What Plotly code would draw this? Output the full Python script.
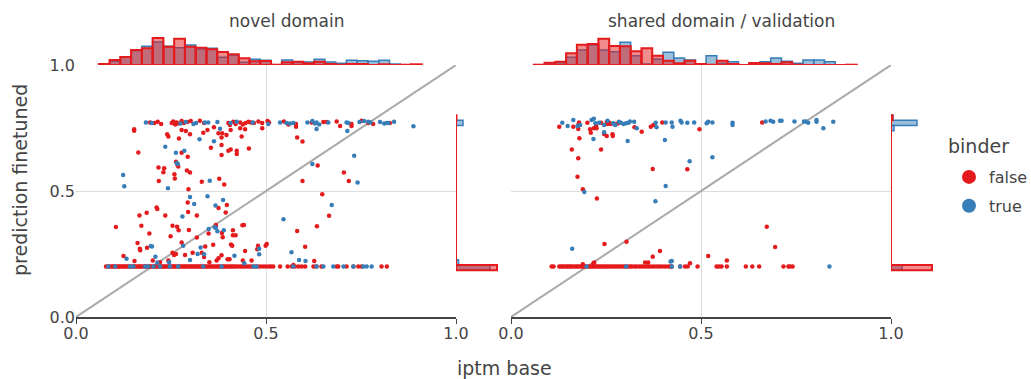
import numpy as np
import plotly.graph_objects as go

RED = "#e41a1c"
BLUE = "#377eb8"
RED_FILL = "rgba(228,26,28,0.5)"
BLUE_FILL = "rgba(55,126,184,0.5)"

panel_titles = ["novel domain", "shared domain / validation"]
legend_title = "binder"
class_names = ["false", "true"]
x_title = "iptm base"
y_title = "prediction finetuned"
tick_vals = [0.0, 0.5, 1.0]
tick_text = ["0.0", "0.5", "1.0"]
diag = [0.0, 1.0]

# ---------------- scatter data (iptm base, prediction finetuned) ----------------
floor_value = 0.2

novel_false_pts = [
    (0.195, 0.772), (0.206, 0.770), (0.215, 0.775), (0.224, 0.766), (0.252, 0.770), (0.256, 0.776),
    (0.261, 0.764), (0.265, 0.772), (0.269, 0.768), (0.278, 0.778), (0.284, 0.770), (0.293, 0.774),
    (0.302, 0.778), (0.326, 0.779), (0.337, 0.770), (0.401, 0.770), (0.405, 0.762), (0.414, 0.775),
    (0.420, 0.766), (0.432, 0.772), (0.439, 0.764), (0.446, 0.770), (0.454, 0.775), (0.460, 0.772),
    (0.468, 0.770), (0.480, 0.776), (0.490, 0.770), (0.504, 0.778), (0.508, 0.772), (0.547, 0.776),
    (0.559, 0.764), (0.579, 0.766), (0.620, 0.772), (0.651, 0.774), (0.660, 0.774), (0.686, 0.776),
    (0.725, 0.766), (0.752, 0.779), (0.769, 0.770), (0.782, 0.766), (0.826, 0.770),
    (0.153, 0.745), (0.153, 0.739), (0.240, 0.725), (0.243, 0.716), (0.271, 0.708), (0.278, 0.742),
    (0.289, 0.738), (0.300, 0.725), (0.335, 0.731), (0.346, 0.742), (0.363, 0.753), (0.375, 0.729),
    (0.385, 0.729), (0.383, 0.712), (0.396, 0.722), (0.407, 0.742), (0.432, 0.749), (0.436, 0.716),
    (0.445, 0.745), (0.490, 0.749), (0.579, 0.755), (0.582, 0.712), (0.596, 0.696), (0.164, 0.653),
    (0.278, 0.652), (0.294, 0.636), (0.355, 0.672), (0.383, 0.683), (0.383, 0.643), (0.401, 0.660),
    (0.407, 0.665), (0.423, 0.660), (0.423, 0.647), (0.455, 0.669), (0.695, 0.758), (0.725, 0.758),
    (0.217, 0.593), (0.232, 0.590), (0.230, 0.574), (0.259, 0.566), (0.260, 0.550), (0.263, 0.616),
    (0.267, 0.603), (0.269, 0.597), (0.292, 0.581), (0.300, 0.573), (0.218, 0.540), (0.296, 0.507),
    (0.331, 0.537), (0.377, 0.549), (0.390, 0.526), (0.212, 0.435), (0.214, 0.429), (0.186, 0.414),
    (0.167, 0.403), (0.235, 0.403), (0.294, 0.454), (0.295, 0.417), (0.318, 0.403), (0.397, 0.444),
    (0.375, 0.433), (0.394, 0.415), (0.105, 0.357), (0.172, 0.362), (0.193, 0.331), (0.162, 0.294),
    (0.168, 0.271), (0.187, 0.275), (0.254, 0.362), (0.266, 0.358), (0.270, 0.344), (0.297, 0.345),
    (0.249, 0.320), (0.318, 0.315), (0.278, 0.296), (0.368, 0.365), (0.368, 0.360), (0.349, 0.331),
    (0.384, 0.333), (0.386, 0.316), (0.413, 0.344), (0.413, 0.324), (0.420, 0.324), (0.438, 0.364),
    (0.442, 0.365), (0.361, 0.287), (0.340, 0.280), (0.408, 0.288), (0.411, 0.283), (0.479, 0.283),
    (0.502, 0.290), (0.499, 0.283), (0.582, 0.341), (0.596, 0.540), (0.603, 0.279), (0.636, 0.601),
    (0.648, 0.487), (0.634, 0.360), (0.666, 0.402), (0.705, 0.573), (0.718, 0.540),
    (0.169, 0.265), (0.125, 0.242), (0.154, 0.222), (0.202, 0.224), (0.221, 0.217), (0.243, 0.224),
    (0.254, 0.255), (0.258, 0.246), (0.263, 0.250), (0.287, 0.246), (0.307, 0.255), (0.337, 0.238),
    (0.331, 0.255), (0.351, 0.217), (0.370, 0.224), (0.375, 0.233), (0.383, 0.245), (0.399, 0.229),
    (0.404, 0.229), (0.445, 0.262), (0.439, 0.224), (0.477, 0.269), (0.462, 0.224), (0.627, 0.222),
    (0.572, 0.206),
]
novel_false_floor_x = [
    0.079, 0.084, 0.088, 0.093, 0.097, 0.100, 0.104, 0.109, 0.113, 0.116, 0.121, 0.125, 0.128, 0.133,
    0.137, 0.141, 0.144, 0.149, 0.153, 0.156, 0.160, 0.165, 0.168, 0.172, 0.177, 0.181, 0.184, 0.188,
    0.193, 0.196, 0.200, 0.205, 0.208, 0.212, 0.217, 0.221, 0.224, 0.229, 0.232, 0.236, 0.241, 0.244,
    0.248, 0.253, 0.257, 0.260, 0.264, 0.269, 0.273, 0.276, 0.281, 0.285, 0.288, 0.293, 0.297, 0.301,
    0.305, 0.309, 0.313, 0.317, 0.321, 0.326, 0.329, 0.334, 0.338, 0.342, 0.347, 0.351, 0.356, 0.360,
    0.365, 0.369, 0.374, 0.378, 0.383, 0.388, 0.392, 0.397, 0.402, 0.407, 0.411, 0.416, 0.421, 0.427,
    0.433, 0.438, 0.444, 0.451, 0.457, 0.463, 0.470, 0.477, 0.484, 0.492, 0.499, 0.507, 0.513, 0.519,
    0.537, 0.557, 0.568, 0.576, 0.585, 0.594, 0.603, 0.625, 0.633, 0.646, 0.686, 0.690, 0.712, 0.730,
    0.743, 0.752, 0.804, 0.818,
]
novel_true_pts = [
    (0.184, 0.772), (0.199, 0.770), (0.275, 0.768), (0.289, 0.774), (0.309, 0.766), (0.316, 0.770),
    (0.339, 0.772), (0.348, 0.772), (0.372, 0.774), (0.407, 0.770), (0.423, 0.775), (0.465, 0.772),
    (0.506, 0.766), (0.537, 0.772), (0.554, 0.770), (0.563, 0.768), (0.572, 0.770), (0.609, 0.772),
    (0.622, 0.778), (0.629, 0.768), (0.633, 0.772), (0.640, 0.764), (0.664, 0.772), (0.712, 0.772),
    (0.717, 0.770), (0.746, 0.774), (0.758, 0.778), (0.769, 0.775), (0.775, 0.772), (0.800, 0.774),
    (0.811, 0.768), (0.818, 0.770), (0.822, 0.770), (0.837, 0.775), (0.888, 0.757),
    (0.714, 0.738), (0.633, 0.746), (0.732, 0.640), (0.235, 0.676), (0.263, 0.652), (0.285, 0.660),
    (0.325, 0.705), (0.363, 0.697), (0.379, 0.747), (0.124, 0.563), (0.127, 0.519), (0.242, 0.511),
    (0.265, 0.611), (0.268, 0.607), (0.300, 0.476), (0.311, 0.448), (0.346, 0.479), (0.352, 0.541),
    (0.387, 0.464), (0.367, 0.442), (0.280, 0.399), (0.349, 0.349), (0.365, 0.356), (0.372, 0.340),
    (0.389, 0.344), (0.368, 0.354), (0.546, 0.388), (0.622, 0.607), (0.673, 0.444), (0.741, 0.534),
    (0.200, 0.280), (0.282, 0.283), (0.328, 0.276), (0.482, 0.271), (0.197, 0.282), (0.133, 0.231),
    (0.209, 0.239), (0.214, 0.216), (0.245, 0.217), (0.300, 0.226), (0.320, 0.250), (0.337, 0.249),
    (0.417, 0.243), (0.443, 0.213), (0.482, 0.249), (0.567, 0.257), (0.587, 0.226), (0.604, 0.222),
]
novel_true_floor_x = [
    0.085, 0.103, 0.142, 0.151, 0.182, 0.190, 0.204, 0.221, 0.247, 0.269, 0.335, 0.383, 0.467, 0.475,
    0.572, 0.633, 0.651, 0.677, 0.704, 0.730, 0.756, 0.765, 0.778,
]

shared_false_pts = [
    (0.127, 0.755), (0.164, 0.755), (0.179, 0.772), (0.177, 0.762), (0.177, 0.746), (0.201, 0.771),
    (0.208, 0.745), (0.210, 0.731), (0.218, 0.749), (0.225, 0.749), (0.224, 0.758), (0.237, 0.771),
    (0.252, 0.775), (0.254, 0.766), (0.259, 0.771), (0.263, 0.766), (0.276, 0.766), (0.282, 0.769),
    (0.245, 0.726), (0.252, 0.718), (0.267, 0.725), (0.268, 0.718), (0.325, 0.753), (0.344, 0.735),
    (0.368, 0.755), (0.375, 0.762), (0.398, 0.772), (0.496, 0.745), (0.661, 0.772), (0.180, 0.709),
    (0.160, 0.665), (0.237, 0.665), (0.177, 0.630), (0.175, 0.557), (0.189, 0.507), (0.226, 0.470),
    (0.373, 0.587), (0.464, 0.586), (0.673, 0.358), (0.695, 0.278), (0.246, 0.290), (0.304, 0.299),
    (0.392, 0.262), (0.373, 0.239), (0.519, 0.242), (0.568, 0.224), (0.471, 0.213), (0.361, 0.216),
    (0.353, 0.216), (0.189, 0.209), (0.219, 0.216), (0.217, 0.213),
]
shared_false_floor_x = [
    0.107, 0.112, 0.127, 0.131, 0.136, 0.140, 0.146, 0.150, 0.155, 0.159, 0.164, 0.170, 0.174, 0.179,
    0.185, 0.189, 0.194, 0.199, 0.204, 0.209, 0.213, 0.218, 0.223, 0.228, 0.232, 0.237, 0.242, 0.247,
    0.252, 0.257, 0.262, 0.268, 0.273, 0.279, 0.284, 0.290, 0.296, 0.301, 0.307, 0.313, 0.318, 0.325,
    0.331, 0.338, 0.344, 0.350, 0.357, 0.363, 0.370, 0.377, 0.384, 0.391, 0.398, 0.406, 0.414, 0.420,
    0.423, 0.445, 0.458, 0.465, 0.491, 0.541, 0.547, 0.554, 0.568, 0.618, 0.635, 0.653, 0.717, 0.730,
    0.734, 0.741,
]
shared_true_pts = [
    (0.135, 0.771), (0.149, 0.758), (0.164, 0.782), (0.175, 0.758), (0.182, 0.762), (0.212, 0.782),
    (0.218, 0.787), (0.217, 0.706), (0.222, 0.769), (0.232, 0.771), (0.245, 0.762), (0.254, 0.779),
    (0.269, 0.769), (0.274, 0.762), (0.284, 0.775), (0.289, 0.771), (0.296, 0.766), (0.303, 0.769),
    (0.309, 0.771), (0.313, 0.776), (0.324, 0.775), (0.331, 0.749), (0.381, 0.771), (0.383, 0.753),
    (0.407, 0.772), (0.423, 0.772), (0.425, 0.755), (0.446, 0.779), (0.449, 0.772), (0.464, 0.771),
    (0.482, 0.772), (0.515, 0.769), (0.519, 0.775), (0.530, 0.772), (0.583, 0.771), (0.583, 0.762),
    (0.670, 0.776), (0.683, 0.779), (0.690, 0.775), (0.708, 0.779), (0.712, 0.779), (0.746, 0.776),
    (0.771, 0.776), (0.776, 0.776), (0.782, 0.771), (0.804, 0.782), (0.804, 0.775), (0.822, 0.749),
    (0.848, 0.775), (0.307, 0.698), (0.405, 0.702), (0.245, 0.733), (0.530, 0.634), (0.470, 0.618),
    (0.407, 0.520), (0.193, 0.496), (0.380, 0.459), (0.161, 0.271), (0.420, 0.220), (0.423, 0.222),
]
shared_true_floor_x = [0.199, 0.303, 0.423, 0.445, 0.838]

# ---------------- marginal histograms (bar heights, 30 bins) ----------------
top_bin_range = (0.06, 0.91)
right_bin_range = (0.186, 0.801)
n_bins = 30

novel_top_false = [1, 5, 8, 15, 16.7, 27, 18.3, 26.3, 18.3, 17.3, 15.7, 13, 10.7, 6.7, 3.7,
                   4, 0.3, 2.7, 3.3, 1.7, 3.3, 1, 0.3, 1, 1, 0, 0.7, 0, 0.3, 0.7]
novel_top_true = [0, 3.7, 7.7, 14.3, 18.7, 23, 18.7, 17.3, 20, 16, 16.7, 7.7, 9.7, 2.7, 5.7,
                  4.7, 0, 5, 3, 3, 5.7, 3, 1.7, 4.7, 4.3, 3.7, 4.7, 1, 0, 0]
shared_top_false = [0.3, 2.3, 3.3, 11.7, 20.3, 21, 26.3, 19, 18.7, 13.7, 16.7, 9.3, 4.3, 1.7, 4.3,
                    1, 0.3, 4.3, 1, 0, 2, 1.7, 1, 2.7, 0.3, 0, 0, 0, 0, 0.3]
shared_top_true = [0, 1.3, 2.3, 7.7, 15, 20, 15, 13.3, 22.7, 9.3, 1, 6, 12.7, 7, 5,
                   0, 9.3, 1.7, 3.3, 0, 1, 3.3, 7, 3.7, 1.7, 5, 5, 3.3, 0, 0]

novel_right_false = [41] + [0] * 28 + [0.5]
novel_right_true = [34, 2.5] + [0] * 26 + [7, 0]
shared_right_false = [41] + [0] * 28 + [1.5]
shared_right_true = [11] + [0] * 26 + [3, 26, 2]

# ---------------- layout geometry (pixels) ----------------
W, H = 1031, 379
FONT = "DejaVu Sans"
TXT = "#444444"
GRID = "#dddddd"

panels = [
    dict(x0=76, x1=456, hx1=501, title=panel_titles[0],
         f=novel_false_pts, ff=novel_false_floor_x, t=novel_true_pts, tf=novel_true_floor_x,
         tf_h=novel_top_false, tt_h=novel_top_true, rf_h=novel_right_false, rt_h=novel_right_true),
    dict(x0=511, x1=891, hx1=936, title=panel_titles[1],
         f=shared_false_pts, ff=shared_false_floor_x, t=shared_true_pts, tf=shared_true_floor_x,
         tf_h=shared_top_false, tt_h=shared_top_true, rf_h=shared_right_false, rt_h=shared_right_true),
]
Y_TOP, Y_BOT, HIST_TOP = 65, 317, 35

fig = go.Figure()
layout = dict(
    width=W, height=H, margin=dict(l=0, r=0, t=0, b=0, autoexpand=False),
    paper_bgcolor="white", plot_bgcolor="white",
    font=dict(family=FONT, color=TXT, size=16),
    barmode="overlay", showlegend=True, annotations=[],
)

tb = np.linspace(top_bin_range[0], top_bin_range[1], n_bins + 1)
tb_c = (tb[:-1] + tb[1:]) / 2
tb_w = tb[1] - tb[0]
rb = np.linspace(right_bin_range[0], right_bin_range[1], n_bins + 1)
rb_c = (rb[:-1] + rb[1:]) / 2
rb_w = rb[1] - rb[0]


def ax(n):
    return "xaxis" + (str(n) if n > 1 else ""), "yaxis" + (str(n) if n > 1 else "")


for i, p in enumerate(panels):
    k = 3 * i
    xm, ym = f"x{k+1 if k else ''}", f"y{k+1 if k else ''}"
    xt, yt = f"x{k+2}", f"y{k+2}"
    xr, yr = f"x{k+3}", f"y{k+3}"
    dom_x = [p["x0"] / W, p["x1"] / W]
    dom_y = [1 - Y_BOT / H, 1 - Y_TOP / H]

    xa, ya = ax(k + 1)
    layout[xa] = dict(domain=dom_x, range=[0, 1], anchor=ym, tickvals=tick_vals, ticktext=tick_text,
                      showgrid=True, gridcolor=GRID, gridwidth=1, zeroline=False, showline=True,
                      linecolor="#444444", linewidth=1.5, ticks="outside", ticklen=5, tickcolor="#444444",
                      tickfont=dict(size=16, color=TXT), automargin=False, ticklabelstandoff=-4)
    layout[ya] = dict(domain=dom_y, range=[0, 1], anchor=xm, tickvals=tick_vals, ticktext=tick_text,
                      showgrid=True, gridcolor=GRID, gridwidth=1, zeroline=False, showline=False,
                      ticks="", showticklabels=(i == 0), tickfont=dict(size=16, color=TXT), automargin=False)
    xa, ya = ax(k + 2)
    layout[xa] = dict(domain=dom_x, range=[0, 1], anchor=yt, visible=False)
    layout[ya] = dict(domain=[1 - Y_TOP / H, 1 - HIST_TOP / H], range=[0, 30], anchor=xt, visible=False)
    xa, ya = ax(k + 3)
    layout[xa] = dict(domain=[p["x1"] / W, p["hx1"] / W], range=[0, 45], anchor=yr, visible=False)
    layout[ya] = dict(domain=dom_y, range=[0, 1], anchor=xr, visible=False)

    # diagonal
    fig.add_trace(go.Scatter(x=diag, y=diag, mode="lines", line=dict(color="#aaaaaa", width=2),
                             xaxis=xm, yaxis=ym, showlegend=False, hoverinfo="skip"))
    # scatter
    fx = [a for a, b in p["f"]] + p["ff"]
    fy = [b for a, b in p["f"]] + [floor_value] * len(p["ff"])
    tx = [a for a, b in p["t"]] + p["tf"]
    ty = [b for a, b in p["t"]] + [floor_value] * len(p["tf"])
    fig.add_trace(go.Scatter(x=fx, y=fy, mode="markers", marker=dict(color=RED, size=4.5),
                             xaxis=xm, yaxis=ym, showlegend=False))
    fig.add_trace(go.Scatter(x=tx, y=ty, mode="markers", marker=dict(color=BLUE, size=4.5),
                             xaxis=xm, yaxis=ym, showlegend=False))
    # top histogram
    fig.add_trace(go.Bar(x=tb_c, y=p["tt_h"], width=tb_w, marker=dict(color=BLUE_FILL, line=dict(color=BLUE, width=1.5)),
                         xaxis=xt, yaxis=yt, showlegend=False))
    fig.add_trace(go.Bar(x=tb_c, y=p["tf_h"], width=tb_w, marker=dict(color=RED_FILL, line=dict(color=RED, width=2)),
                         xaxis=xt, yaxis=yt, showlegend=False))
    fig.add_trace(go.Scatter(x=[tb[0], tb[-1]], y=[0, 0], mode="lines", line=dict(color=RED, width=2),
                             xaxis=xt, yaxis=yt, showlegend=False, hoverinfo="skip"))
    # right histogram
    fig.add_trace(go.Bar(y=rb_c, x=p["rt_h"], width=rb_w, orientation="h",
                         marker=dict(color=BLUE_FILL, line=dict(color=BLUE, width=1.5)),
                         xaxis=xr, yaxis=yr, showlegend=False))
    fig.add_trace(go.Bar(y=rb_c, x=p["rf_h"], width=rb_w, orientation="h",
                         marker=dict(color=RED_FILL, line=dict(color=RED, width=2)),
                         xaxis=xr, yaxis=yr, showlegend=False))
    fig.add_trace(go.Scatter(y=[rb[0], rb[-1]], x=[0, 0], mode="lines", line=dict(color=RED, width=2),
                             xaxis=xr, yaxis=yr, showlegend=False, hoverinfo="skip"))
    # panel title
    layout["annotations"].append(dict(text=p["title"], x=(p["x0"] + p["hx1"] - 4) / 2 / W, y=1 - 21 / H,
                                      xref="paper", yref="paper", showarrow=False,
                                      font=dict(size=17, color=TXT), xanchor="center", yanchor="middle"))

# legend entries
for name, col in zip(class_names, [RED, BLUE]):
    fig.add_trace(go.Scatter(x=[None], y=[None], mode="markers", marker=dict(color=col, size=14),
                             name=name, legendgroup=name, showlegend=True))

layout["annotations"].append(dict(text=x_title, x=504 / W, y=1 - 368 / H, xref="paper", yref="paper",
                                  showarrow=False, font=dict(size=19, color=TXT), xanchor="center", yanchor="middle"))
layout["annotations"].append(dict(text=y_title, x=20 / W, y=1 - 180 / H, xref="paper", yref="paper",
                                  showarrow=False, textangle=-90, font=dict(size=19, color=TXT),
                                  xanchor="center", yanchor="middle"))
layout["annotations"].append(dict(text=legend_title, x=946 / W, y=1 - 146 / H, xref="paper", yref="paper",
                                  showarrow=False, font=dict(size=19, color=TXT), xanchor="left", yanchor="middle"))
layout["legend"] = dict(x=949 / W, y=1 - 160 / H, xanchor="left", yanchor="top",
                        font=dict(size=16, color=TXT), bgcolor="rgba(0,0,0,0)", itemsizing="trace",
                        traceorder="grouped", tracegroupgap=5)
fig.update_layout(**layout)
fig.write_html("out.html")
